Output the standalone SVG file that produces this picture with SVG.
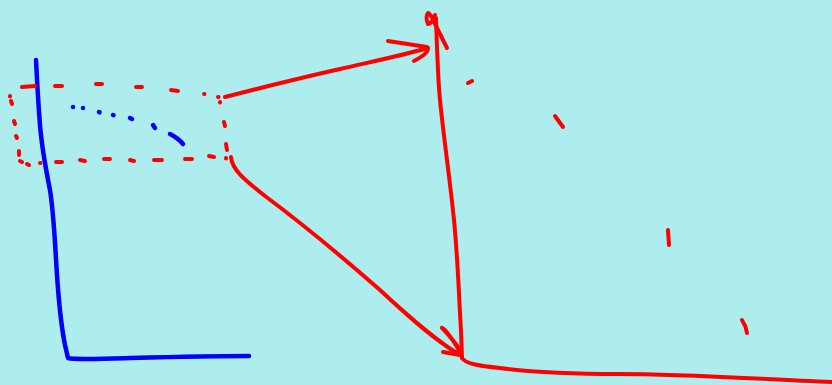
<svg xmlns="http://www.w3.org/2000/svg" width="832" height="385" viewBox="0 0 832 385">
<style>
.r{fill:none;stroke:#ff0000;stroke-width:4;stroke-linecap:round;stroke-linejoin:round}
.b{fill:none;stroke:#0000ff;stroke-width:4.5;stroke-linecap:round;stroke-linejoin:round}
</style>
<rect width="832" height="385" fill="#aeeded"/>
<g id="axis-blue">
<path class="b" d="M36,60 C37,80 38,100 40,125 C42,150 46,170 50,190 C54,215 55,245 57,275 C59,305 62,330 65,345 L68,358 C75,360 100,359 130,358 C170,357 210,356 249,356"/>
</g>
<g id="dotted-curve">
<path class="b" d="M73,107 l0,0 M83,108 l0,0 M99,112 l0.5,0.3 M113,115 l0.5,0.2 M130,118 l2,1 M153,125 l2,3 M170,134 Q178,138 183,144"/>
</g>
<g id="dashed-box">
<path class="r" d="M22,87 L35,86 M55,86 L62,86 M96,84 L102,84 M136,87 L142,87 M171,90 L178,91 M204,94 l0.5,0 M218,97 l0.5,0
M10,96 l0,0.5 M11,101 L12,104 M14,121 L15,124 M16,136 L17,138 M19,151 L19,155 M20,161 L22,162 M27,164 L29,165 M40,163 l0.5,0
M56,162 L62,162 M80,160 L85,161 M104,159 L110,159 M130,160 L134,161 M154,160 L162,160 M185,159 L192,159 M209,156 L214,157 M226,158 l0,0.5
M220,102 l0,0.5 M224,122 L225,126 M226,144 L227,150"/>
</g>
<g id="connectors">
<path class="r" d="M225,97 C260,88 300,78 340,69 C370,62 400,56 428,48"/>
<path class="r" d="M388,41 L427,47 Q431,52 414,61"/>
<path class="r" d="M231,157 C232,170 245,180 265,196 C300,222 340,255 380,290 C410,318 435,340 460,355"/>
<path class="r" d="M443,352 L460,355 M460,352 Q452,338 445,330 Q440,326 443,329 Q450,336 458,347"/>
<path class="r" d="M436,18 C437,50 438,80 440,100 C444,140 450,180 454,220 C458,260 459,300 461,330 L462,358"/>
<path class="r" d="M447,48 L436,26 Q431,14 428,13 Q425,17 428,24 Q433,23 435,15"/>
<path class="r" d="M462,358 C466,364 480,366 500,368 C530,372 570,374 620,374 C680,374 740,378 832,382"/>
</g>
<g id="marks">
<path class="r" d="M468,83 L472,81 M555,116 L563,127 M668,230 L669,245 M742,320 Q746,326 747,333"/>
</g>
</svg>
